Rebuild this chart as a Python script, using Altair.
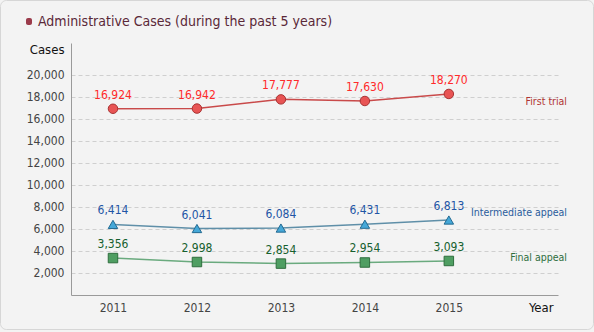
import altair as alt
import pandas as pd

years = [2011, 2012, 2013, 2014, 2015]
first_trial = [16924, 16942, 17777, 17630, 18270]
intermediate = [6414, 6041, 6084, 6431, 6813]
final_appeal = [3356, 2998, 2854, 2954, 3093]
series_names = ["First trial", "Intermediate appeal", "Final appeal"]
y_ticks = [2000, 4000, 6000, 8000, 10000, 12000, 14000, 16000, 18000, 20000]

line_colors = ["#c94a4a", "#5f8fa8", "#6aaa7e"]
fill_colors = ["#e85454", "#45a8d8", "#4f9e62"]
stroke_colors = ["#a83232", "#236a92", "#2f6e3e"]
label_colors = ["#ff2a2a", "#1f55a5", "#16602e"]
name_colors = ["#b03434", "#2a5c9c", "#2f6e3e"]
shapes = ["circle", "triangle-up", "square"]

rows = []
for name, vals in zip(series_names, [first_trial, intermediate, final_appeal]):
    for y, v in zip(years, vals):
        rows.append({"year": y, "value": v, "series": name,
                     "label": f"{v:,}"})
df = pd.DataFrame(rows)
last = df[df["year"] == years[-1]].copy()
one = pd.DataFrame({"a": [0]})

FONT = "DejaVu Sans Condensed, DejaVu Sans, sans-serif"
W, H = 487, 252

xs = alt.X("year:Q", scale=alt.Scale(domain=[2010.5, 2016.3], nice=False, zero=False),
           axis=alt.Axis(values=years, format="d", ticks=False, grid=False, domainColor="#9a9a9a",
                         labelFontSize=12, labelColor="#444", labelPadding=7, labelFont=FONT,
                         labelOverlap=False,
                         title="Year", titleX=482, titleY=12, titleAlign="right", titleBaseline="middle",
                         titleFontSize=13, titleFontWeight="normal", titleColor="#111", titleFont=FONT))
ys = alt.Y("value:Q", scale=alt.Scale(domain=[0, 22900], nice=False),
           axis=alt.Axis(values=y_ticks, format=",d", ticks=False, grid=True, gridDash=[4, 3],
                         gridColor="#cfcfcf", domainColor="#9a9a9a", labelOverlap=False,
                         labelFontSize=12, labelColor="#444", labelPadding=7, labelFont=FONT,
                         title="Cases", titleAngle=0, titleAlign="right", titleBaseline="middle",
                         titleX=-7, titleY=6, titleFontSize=13, titleFontWeight="normal",
                         titleColor="#111", titleFont=FONT))

sc = lambda rng: alt.Scale(domain=series_names, range=rng)

border = alt.Chart(one).mark_rect(fill=None, stroke="#d6d6d6", cornerRadius=6, strokeWidth=1).encode(
    x=alt.value(-70.5), x2=alt.value(W + 35.5), y=alt.value(-42.5), y2=alt.value(H + 34.5))

bullet = alt.Chart(one).mark_rect(fill="#9b3b4b", cornerRadius=2).encode(
    x=alt.value(-45), x2=alt.value(-39), y=alt.value(-25), y2=alt.value(-18))

title = alt.Chart(one).mark_text(text="Administrative Cases (during the past 5 years)", align="left",
                                  baseline="middle", fontSize=14, font=FONT, color="#5a2838").encode(
    x=alt.value(-33), y=alt.value(-21))

lines = alt.Chart(df).mark_line(strokeWidth=1.5).encode(
    x=xs, y=ys, color=alt.Color("series:N", scale=sc(line_colors), legend=None), detail="series:N")

points = alt.Chart(df).mark_point(filled=True, size=90, strokeWidth=1, opacity=1).encode(
    x=xs, y=ys,
    shape=alt.Shape("series:N", scale=sc(shapes), legend=None),
    fill=alt.Fill("series:N", scale=sc(fill_colors), legend=None),
    stroke=alt.Stroke("series:N", scale=sc(stroke_colors), legend=None))

labels = alt.Chart(df).mark_text(dy=-14, fontSize=12, font=FONT).encode(
    x=xs, y=ys, text="label:N",
    color=alt.Color("series:N", scale=sc(label_colors), legend=None))

name_dy = {"First trial": 8, "Intermediate appeal": -7, "Final appeal": -3}
names = alt.layer(*[
    alt.Chart(last[last["series"] == n]).mark_text(align="right", baseline="middle", dy=name_dy[n],
                                                    fontSize=10.5, font=FONT, color=c).encode(
        x=alt.value(W + 9), y=ys, text="series:N")
    for n, c in zip(series_names, name_colors)])

chart = alt.layer(lines, points, labels, names, border, bullet, title).resolve_scale(
    color="independent").properties(
    width=W, height=H, background="#f3f3f3",
    padding={"left": 71, "top": 43, "right": 36, "bottom": 37},
    autosize=alt.AutoSizeParams(type="none")
).configure_view(stroke=None)

chart.save("out.html", embed_options={"renderer": "svg", "actions": False})
